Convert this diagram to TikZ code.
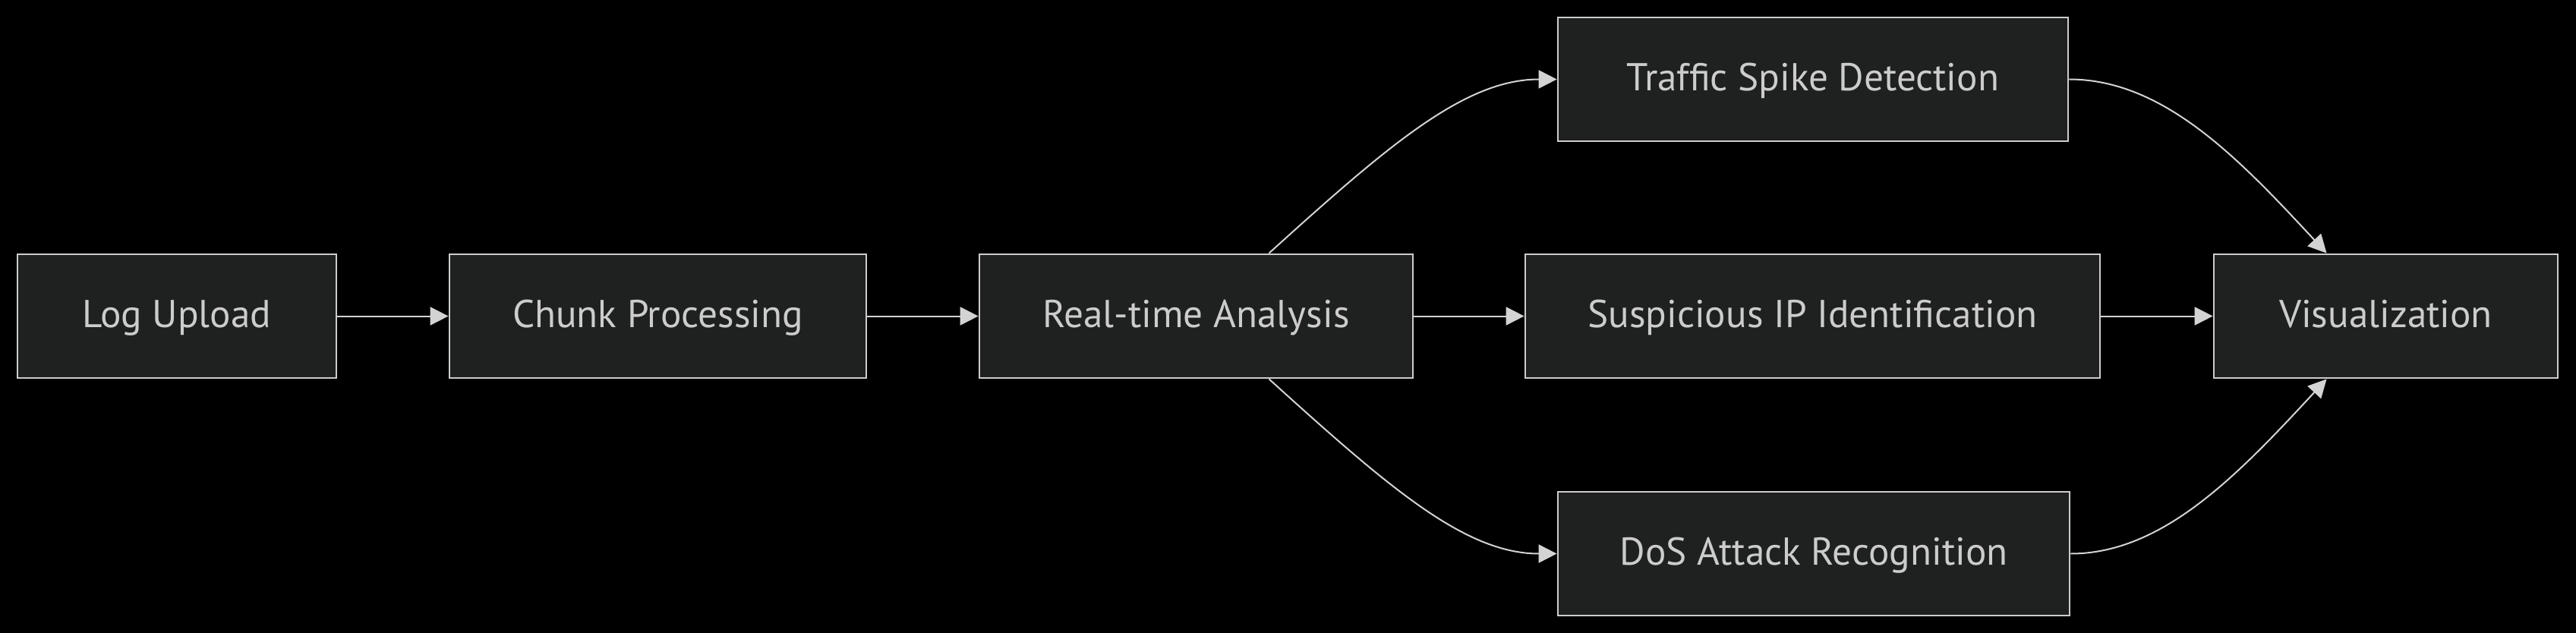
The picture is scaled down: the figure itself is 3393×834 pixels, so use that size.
\documentclass[tikz,border=0pt]{standalone}
\usepackage{fontspec}
\setmainfont{PT Sans}
\usetikzlibrary{arrows.meta}
\definecolor{bgc}{HTML}{000000}
\definecolor{boxfill}{HTML}{1F2020}
\definecolor{boxline}{HTML}{CCCCCC}
\definecolor{txt}{HTML}{CCCCCC}
\definecolor{edge}{HTML}{D3D3D3}
\tikzset{
  box/.style={draw=boxline, fill=boxfill, line width=1.4pt, minimum height=81.5pt, inner sep=0pt,
    text=txt, font=\fontsize{25.6}{30}\selectfont, text height=18pt, text depth=3pt},
  conn/.style={draw=edge, line width=1pt, -{Triangle[length=12pt,width=12pt]}},
}
\begin{document}
\begin{tikzpicture}[x=0.5pt,y=-0.5pt]
\fill[bgc] (0,0) rectangle (3393,834);
\useasboundingbox (0,0) rectangle (3393,834);
\node[box, minimum width=210pt] (log) at (233,416.5) {Log Upload};
\node[box, minimum width=274.5pt] (chunk) at (866.5,416.5) {Chunk Processing};
\node[box, minimum width=285.5pt] (real) at (1575.5,416.5) {Real-time Analysis};
\node[box, minimum width=336pt] (traffic) at (2388,104.5) {Traffic Spike Detection};
\node[box, minimum width=378.5pt] (susp) at (2387.5,416.5) {Suspicious IP Identification};
\node[box, minimum width=337pt] (dos) at (2389,729.5) {DoS Attack Recognition};
\node[box, minimum width=226.5pt] (vis) at (3142.5,416.5) {Visualization};
\coordinate (rtop) at ([xshift=48pt]real.north);
\coordinate (rbot) at ([xshift=48pt]real.south);
\coordinate (vtop) at ([xshift=-39pt]vis.north);
\coordinate (vbot) at ([xshift=-39pt]vis.south);
\draw[conn] (log) -- (chunk);
\draw[conn] (chunk) -- (real);
\draw[conn] (real) -- (susp);
\draw[conn] (susp) -- (vis);
\draw[conn] (rtop) .. controls (1830,190) and (1930,104.5) .. (traffic.west);
\draw[conn] (rbot) .. controls (1830,643) and (1930,729.5) .. (dos.west);
\draw[conn] (traffic.east) .. controls (2850,104.5) and (2950,210) .. (vtop);
\draw[conn] (dos.east) .. controls (2850,729.5) and (2950,623) .. (vbot);
\end{tikzpicture}
\end{document}
